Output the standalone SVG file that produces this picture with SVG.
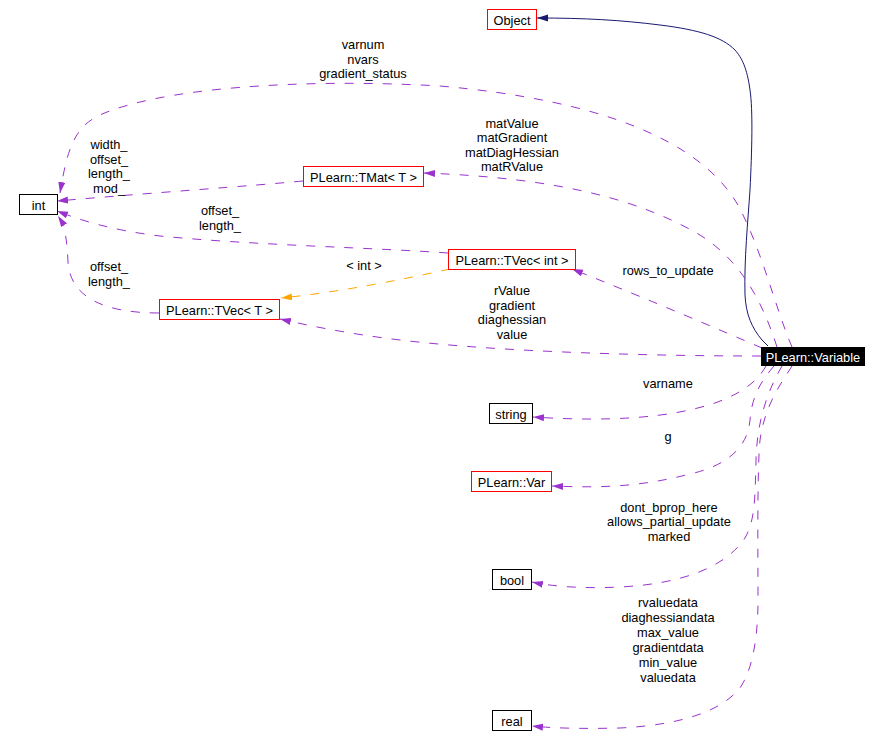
<svg xmlns="http://www.w3.org/2000/svg" width="881" height="750" viewBox="0 0 881 750">
<style>
text{font-family:"Liberation Sans",Arial,sans-serif;font-size:12.8px;fill:#000;text-anchor:middle}
.box{fill:#fff;stroke:#000;stroke-width:1}
.red{fill:#fff;stroke:#ff0000;stroke-width:1}
.e{fill:none;stroke:#9a32cd;stroke-width:1;stroke-dasharray:9,10}
.o{fill:none;stroke:#ffa500;stroke-width:1;stroke-dasharray:9,10}
.n{fill:none;stroke:#191970;stroke-width:1}
</style>
<defs>
<marker id="ap" markerWidth="12" markerHeight="8" refX="11" refY="3.5" orient="auto" markerUnits="userSpaceOnUse"><path d="M0,0 L11,3.5 L0,7 z" fill="#9a32cd" stroke="none"/></marker>
<marker id="ao" markerWidth="12" markerHeight="8" refX="11" refY="3.5" orient="auto" markerUnits="userSpaceOnUse"><path d="M0,0 L11,3.5 L0,7 z" fill="#ffa500" stroke="none"/></marker>
<marker id="an" markerWidth="12" markerHeight="8" refX="11" refY="3.5" orient="auto" markerUnits="userSpaceOnUse"><path d="M0,0 L11,3.5 L0,7 z" fill="#191970" stroke="none"/></marker>
</defs>
<rect width="881" height="750" fill="#fff"/>
<g id="edges">
<path class="n" marker-end="url(#an)" d="M768,346 L762,340 C752,328 746,315 745,295 C744,260 748,220 750,190 C752,150 753,110 750,90 C747,68 742,58 735,50 C722,37 700,30 660,25 C620,20 585,18 537,18"/>
<path class="e" marker-end="url(#ap)" d="M792,347 C776,310 762,250 738,205 C700,140 600,100 440,86 C300,78 160,88 100,115 C74,127 67,150 60,193"/>
<text x="363" y="49.2">varnum</text>
<text x="363" y="63.6">nvars</text>
<text x="363" y="78">gradient_status</text>
<path class="e" marker-end="url(#ap)" d="M303,181 C250,186 150,193 57,201"/>
<text x="109" y="149">width_</text>
<text x="109" y="163.5">offset_</text>
<text x="109" y="178">length_</text>
<text x="109" y="192.5">mod_</text>
<path class="e" marker-end="url(#ap)" d="M777,347 C762,300 740,260 700,235 C640,200 560,178 424,173"/>
<text x="512" y="127.5">matValue</text>
<text x="512" y="142">matGradient</text>
<text x="512" y="156.5">matDiagHessian</text>
<text x="512" y="171">matRValue</text>
<path class="e" marker-end="url(#ap)" d="M448,253 C380,248 250,245 160,236 C110,230 80,220 57,211"/>
<text x="220" y="215">offset_</text>
<text x="220" y="229.5">length_</text>
<path class="e" marker-end="url(#ap)" d="M159,313 C100,313 70,295 68,262 C67,242 66,228 58,216"/>
<text x="109" y="271">offset_</text>
<text x="109" y="286">length_</text>
<path class="o" marker-end="url(#ao)" d="M450,269 C400,280 340,292 281,298"/>
<text x="364" y="270">&lt; int &gt;</text>
<path class="e" marker-end="url(#ap)" d="M762,348 C720,330 650,300 572,269"/>
<text x="668" y="275">rows_to_update</text>
<path class="e" marker-end="url(#ap)" d="M761,356 C650,356 500,352 400,340 C350,334 310,326 280,319"/>
<text x="512" y="295">rValue</text>
<text x="512" y="309.6">gradient</text>
<text x="512" y="324.2">diaghessian</text>
<text x="512" y="338.8">value</text>
<path class="e" marker-end="url(#ap)" d="M766,366 C758,380 745,392 715,403 C670,418 610,422 533,417"/>
<text x="668" y="388.3">varname</text>
<path class="e" marker-end="url(#ap)" d="M774,366 C762,380 752,395 750,420 C748,445 730,465 690,474 C640,487 600,488 552,486"/>
<text x="668" y="441">g</text>
<path class="e" marker-end="url(#ap)" d="M782,366 C768,390 757,420 756,460 C755,500 755,520 745,538 C725,568 680,584 620,587 C580,589 550,586 532,582"/>
<text x="669" y="511.5">dont_bprop_here</text>
<text x="669" y="526">allows_partial_update</text>
<text x="669" y="541">marked</text>
<path class="e" marker-end="url(#ap)" d="M792,366 C780,385 765,405 760,440 C757,470 758,560 758,600 C758,640 752,670 740,688 C720,712 680,725 620,728 C580,729 550,728 532,726"/>
<text x="668" y="607.3">rvaluedata</text>
<text x="668" y="622.2">diaghessiandata</text>
<text x="668" y="637.1">max_value</text>
<text x="668" y="652">gradientdata</text>
<text x="668" y="666.9">min_value</text>
<text x="668" y="681.7">valuedata</text>
</g>
<g id="node-Object"><rect class="red" x="487.5" y="9.5" width="49" height="20"/><text x="512" y="24.5">Object</text></g>
<g id="node-int"><rect class="box" x="19.5" y="194.5" width="38" height="20"/><text x="38.5" y="209.5">int</text></g>
<g id="node-TMat"><rect class="red" x="303.5" y="166.5" width="120" height="20"/><text x="363.5" y="181.5">PLearn::TMat&lt; T &gt;</text></g>
<g id="node-TVecInt"><rect class="red" x="448.5" y="249.5" width="127" height="20"/><text x="512" y="264.5">PLearn::TVec&lt; int &gt;</text></g>
<g id="node-TVecT"><rect class="red" x="159.5" y="299.5" width="120" height="20"/><text x="219.5" y="314.5">PLearn::TVec&lt; T &gt;</text></g>
<g id="node-Variable"><rect x="761" y="347" width="104" height="19" fill="#000"/><text x="813" y="361.5" style="fill:#fff">PLearn::Variable</text></g>
<g id="node-string"><rect class="box" x="489.5" y="403.5" width="43" height="20"/><text x="511" y="418.5">string</text></g>
<g id="node-Var"><rect class="red" x="471.5" y="471.5" width="80" height="20"/><text x="511.5" y="486.5">PLearn::Var</text></g>
<g id="node-bool"><rect class="box" x="492.5" y="569.5" width="39" height="20"/><text x="512" y="584.5">bool</text></g>
<g id="node-real"><rect class="box" x="492.5" y="710.5" width="39" height="20"/><text x="512" y="725.5">real</text></g>
</svg>
